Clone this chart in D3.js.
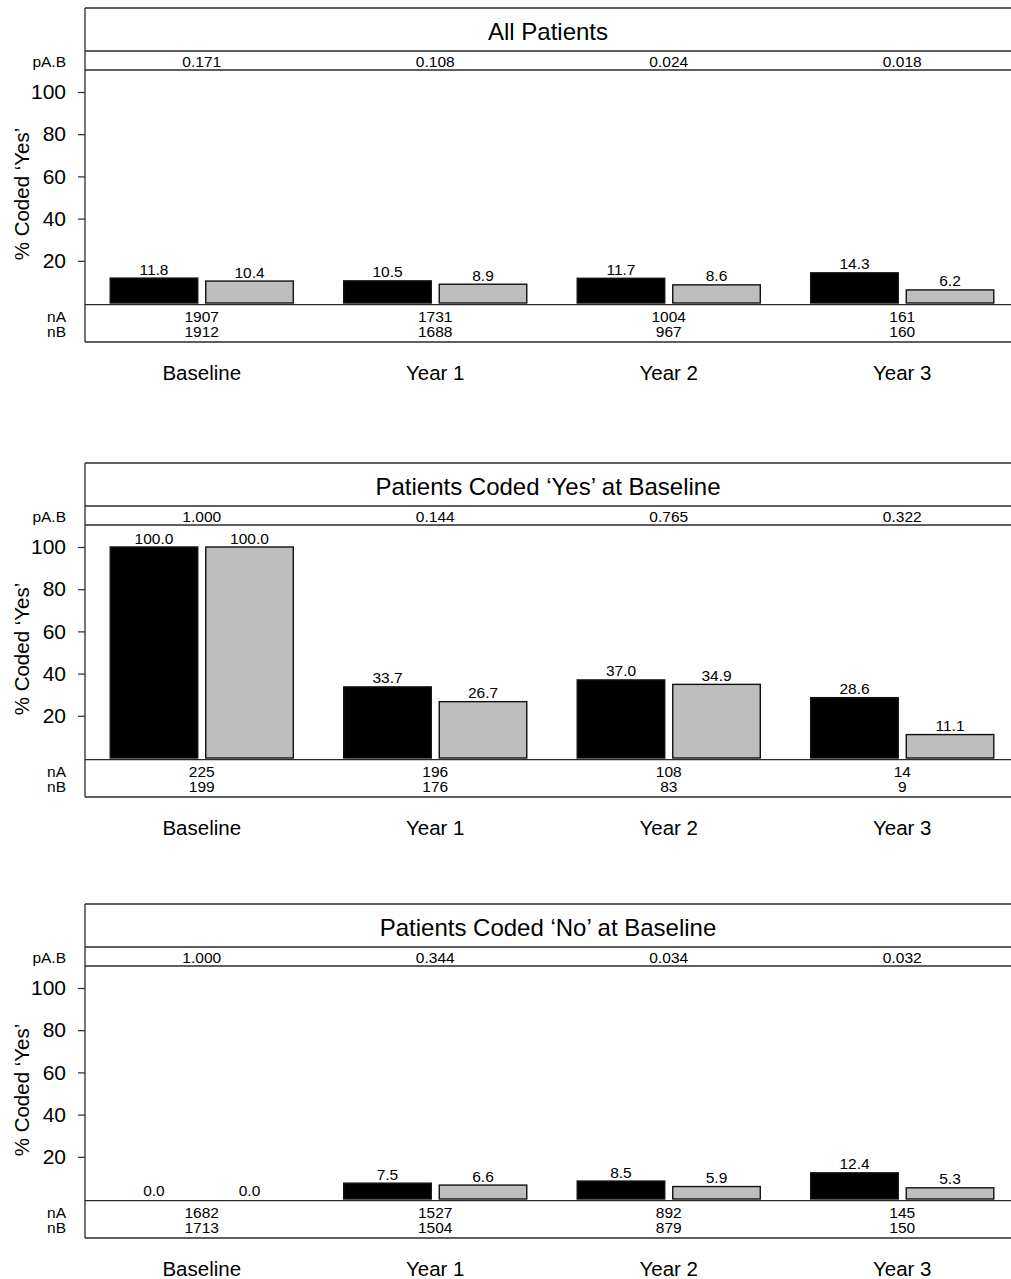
<!DOCTYPE html>
<html>
<head>
<meta charset="utf-8">
<script src="https://cdn.jsdelivr.net/npm/d3@7"></script>
<style>
  html, body { margin: 0; padding: 0; background: #fff; }
  svg { display: block; font-family: "Liberation Sans", Arial, sans-serif; }
</style>
</head>
<body>
<svg id="chart" width="1011" height="1279"></svg>
<script>
// Time points shared by all panels
const timepoints = ["Baseline", "Year 1", "Year 2", "Year 3"];
const groups = ["A", "B"];
const yTicks = [20, 40, 60, 80, 100];

// All patients
const allTitle = "All Patients";
const allPctA = [11.8, 10.5, 11.7, 14.3];
const allPctB = [10.4, 8.9, 8.6, 6.2];
const allP = ["0.171", "0.108", "0.024", "0.018"];
const allNA = [1907, 1731, 1004, 161];
const allNB = [1912, 1688, 967, 160];

// Patients coded 'Yes' at baseline
const yesTitle = "Patients Coded \u2018Yes\u2019 at Baseline";
const yesPctA = [100.0, 33.7, 37.0, 28.6];
const yesPctB = [100.0, 26.7, 34.9, 11.1];
const yesP = ["1.000", "0.144", "0.765", "0.322"];
const yesNA = [225, 196, 108, 14];
const yesNB = [199, 176, 83, 9];

// Patients coded 'No' at baseline
const noTitle = "Patients Coded \u2018No\u2019 at Baseline";
const noPctA = [0.0, 7.5, 8.5, 12.4];
const noPctB = [0.0, 6.6, 5.9, 5.3];
const noP = ["1.000", "0.344", "0.034", "0.032"];
const noNA = [1682, 1527, 892, 145];
const noNB = [1713, 1504, 879, 150];

const panels = [
  { title: allTitle, a: allPctA, b: allPctB, p: allP, nA: allNA, nB: allNB },
  { title: yesTitle, a: yesPctA, b: yesPctB, p: yesP, nA: yesNA, nB: yesNB },
  { title: noTitle, a: noPctA, b: noPctB, p: noP, nA: noNA, nB: noNB }
];
const panelTops = [8, 463, 904];

const svg = d3.select("#chart");
const left = 85, right = 1011;
const lineColor = "#2a2a2a";
const fills = { A: "#000000", B: "#bebebe" };

const x = d3.scaleBand().domain(timepoints).range([left, 1019])
  .paddingInner(0.216).paddingOuter(0.108);
const xSub = d3.scaleBand().domain(groups).range([0, x.bandwidth()])
  .paddingInner(0.0838).paddingOuter(0);

panels.forEach((pd, i) => {
  const T = panelTops[i];
  const g = svg.append("g");
  const y = d3.scaleLinear().domain([0, 100]).range([T + 295, T + 84]);

  const rows = timepoints.map((t, k) => ({
    t, vals: [{ g: "A", v: pd.a[k] }, { g: "B", v: pd.b[k] }],
    p: pd.p[k], nA: pd.nA[k], nB: pd.nB[k]
  }));

  // Frame: top edge, strip separators, left edge
  [T, T + 43, T + 62, T + 296.6, T + 334].forEach(yy => {
    g.append("line").attr("x1", left).attr("x2", right)
      .attr("y1", yy).attr("y2", yy)
      .attr("stroke", lineColor).attr("stroke-width", 1.3);
  });
  g.append("line").attr("x1", left).attr("x2", left)
    .attr("y1", T).attr("y2", T + 334)
    .attr("stroke", lineColor).attr("stroke-width", 1.3);

  // Title
  g.append("text").attr("x", (left + right) / 2).attr("y", T + 31.5)
    .attr("text-anchor", "middle").attr("font-size", 24).text(pd.title);

  // Strip labels
  const small = 15.5;
  g.append("text").attr("x", 66).attr("y", T + 58.7).attr("text-anchor", "end")
    .attr("font-size", small).text("pA.B");
  g.append("text").attr("x", 66).attr("y", T + 313.7).attr("text-anchor", "end")
    .attr("font-size", small).text("nA");
  g.append("text").attr("x", 66).attr("y", T + 328.7).attr("text-anchor", "end")
    .attr("font-size", small).text("nB");

  const cx = d => x(d.t) + x.bandwidth() / 2;

  g.selectAll(".pval").data(rows).join("text")
    .attr("x", cx).attr("y", T + 58.7).attr("text-anchor", "middle")
    .attr("font-size", small).text(d => d.p);
  g.selectAll(".na").data(rows).join("text")
    .attr("x", cx).attr("y", T + 313.7).attr("text-anchor", "middle")
    .attr("font-size", small).text(d => d.nA);
  g.selectAll(".nb").data(rows).join("text")
    .attr("x", cx).attr("y", T + 328.7).attr("text-anchor", "middle")
    .attr("font-size", small).text(d => d.nB);

  // Category labels below the panel
  g.selectAll(".cat").data(rows).join("text")
    .attr("x", cx).attr("y", T + 371.5).attr("text-anchor", "middle")
    .attr("font-size", 20.5).text(d => d.t);

  // Y axis
  const yAxis = d3.axisLeft(y).tickValues(yTicks).tickSize(7).tickPadding(12);
  const ax = g.append("g").attr("transform", `translate(${left},0)`).call(yAxis);
  ax.select(".domain").remove();
  ax.selectAll(".tick line").attr("stroke", lineColor).attr("stroke-width", 1.2);
  ax.selectAll(".tick text").attr("font-size", 21).attr("fill", "#000")
    .attr("font-family", "Liberation Sans, Arial, sans-serif");

  g.append("text")
    .attr("transform", `translate(29,${T + 186}) rotate(-90)`)
    .attr("text-anchor", "middle").attr("font-size", 20.5)
    .text("% Coded \u2018Yes\u2019");

  // Bars
  const grp = g.selectAll(".grp").data(rows).join("g")
    .attr("transform", d => `translate(${x(d.t)},0)`);
  grp.selectAll("rect").data(d => d.vals).join("rect")
    .attr("x", d => xSub(d.g)).attr("width", xSub.bandwidth())
    .attr("y", d => y(d.v)).attr("height", d => y(0) - y(d.v))
    .attr("fill", d => fills[d.g])
    .attr("stroke", "#111").attr("stroke-width", 1.4);
  grp.selectAll(".val").data(d => d.vals).join("text")
    .attr("x", d => xSub(d.g) + xSub.bandwidth() / 2)
    .attr("y", d => y(d.v) - 3.5)
    .attr("text-anchor", "middle").attr("font-size", small)
    .text(d => d.v.toFixed(1));
});
</script>
</body>
</html>
